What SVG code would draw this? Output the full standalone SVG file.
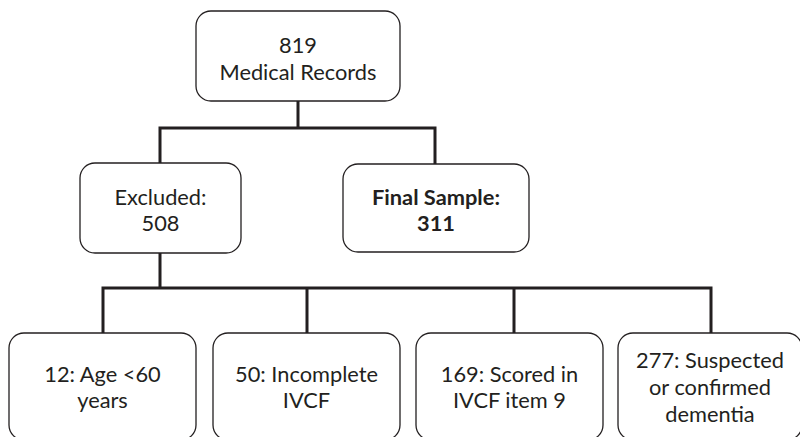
<svg xmlns="http://www.w3.org/2000/svg" width="800" height="437" viewBox="0 0 800 437">
<style>
.box{fill:#fff;stroke:#231f20;stroke-width:1.3}
.t{font-family:Lato,"Open Sans",sans-serif;font-size:21.8px;fill:#231f20;text-anchor:middle}
.b{font-weight:bold}
.c{fill:none;stroke:#231f20;stroke-width:3;stroke-linecap:square}
</style>
<rect width="800" height="437" fill="#fff"/>
<g id="connectors">
<path class="c" d="M298,101 V128 M160,128 H435 M160,128 V163 M435,128 V163"/>
<path class="c" d="M160,253 V288 M103,288 H711 M103,288 V333 M307,288 V333 M514,288 V333 M711,288 V333"/>
</g>
<g id="n_records">
<rect class="box" x="196" y="11" width="204" height="90" rx="15"/>
<text class="t" x="298" y="53">819</text>
<text class="t" x="298" y="80">Medical Records</text>
</g>
<g id="n_excluded">
<rect class="box" x="80" y="163" width="161" height="90" rx="15"/>
<text class="t" x="160.5" y="205">Excluded:</text>
<text class="t" x="160.5" y="231">508</text>
</g>
<g id="n_final">
<rect class="box" x="343" y="164" width="186" height="88" rx="15"/>
<text class="t b" x="436" y="205">Final Sample:</text>
<text class="t b" x="436" y="231">311</text>
</g>
<g id="n_age">
<rect class="box" x="9" y="333" width="187" height="107" rx="15"/>
<text class="t" x="102.5" y="382">12: Age &lt;60</text>
<text class="t" x="102.5" y="408">years</text>
</g>
<g id="n_incomplete">
<rect class="box" x="213" y="333" width="187" height="107" rx="15"/>
<text class="t" x="306.5" y="382">50: Incomplete</text>
<text class="t" x="306.5" y="408">IVCF</text>
</g>
<g id="n_scored">
<rect class="box" x="416" y="333" width="187" height="107" rx="15"/>
<text class="t" x="509.5" y="382">169: Scored in</text>
<text class="t" x="509.5" y="408">IVCF item 9</text>
</g>
<g id="n_dementia">
<rect class="box" x="618" y="333" width="184" height="107" rx="15"/>
<text class="t" x="710" y="368">277: Suspected</text>
<text class="t" x="710" y="395">or confirmed</text>
<text class="t" x="710" y="422">dementia</text>
</g>
</svg>
